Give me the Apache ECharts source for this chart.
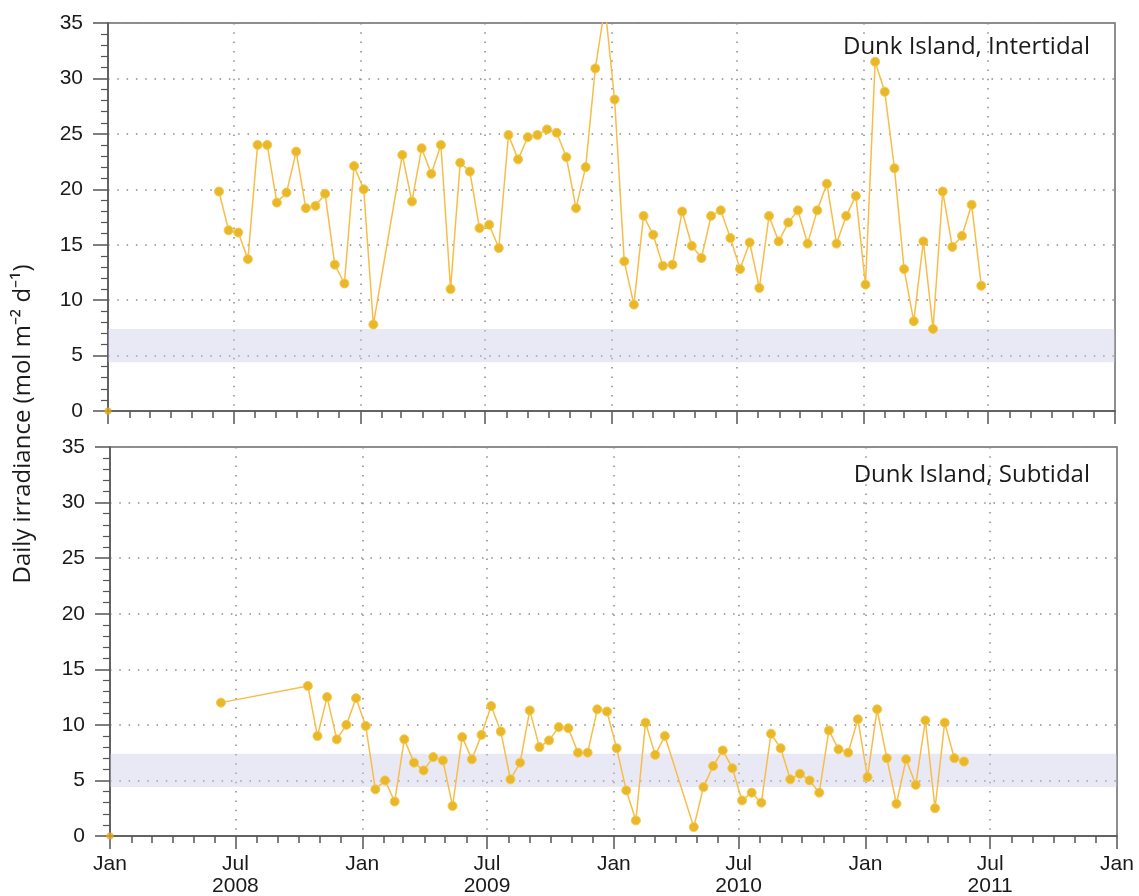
<!DOCTYPE html>
<html>
<head>
<meta charset="utf-8">
<script src="https://cdn.jsdelivr.net/npm/echarts@6/dist/echarts.min.js"></script>
<style>html,body{margin:0;padding:0;background:#fff;}#c{width:1139px;height:896px;}</style>
</head>
<body>
<div id="c"></div>
<script>
// ---- Data ----
const panelTitles = ['Dunk Island, Intertidal', 'Dunk Island, Subtidal'];
const yAxisTitle = 'Daily irradiance (mol m\u207B\u00B2 d\u207B\u00B9)';
const xRange = ['2008-01-01', '2012-01-01'];
const yTicks = [0, 35, 5];           // min, max, step
const bandRange = [4.4, 7.4];        // shaded band (mol m-2 d-1)
const originPoint = ['2008-01-01', 0];

const intertidalDates = [
  '2008-06-10','2008-06-24','2008-07-08','2008-07-22','2008-08-05','2008-08-19','2008-09-02','2008-09-16',
  '2008-09-30','2008-10-14','2008-10-28','2008-11-11','2008-11-25','2008-12-09','2008-12-23','2009-01-06',
  '2009-01-20','2009-03-03','2009-03-17','2009-03-31','2009-04-14','2009-04-28','2009-05-12','2009-05-26',
  '2009-06-09','2009-06-23','2009-07-07','2009-07-21','2009-08-04','2009-08-18','2009-09-01','2009-09-15',
  '2009-09-29','2009-10-13','2009-10-27','2009-11-10','2009-11-24','2009-12-08','2009-12-22','2010-01-05',
  '2010-01-19','2010-02-02','2010-02-16','2010-03-02','2010-03-16','2010-03-30','2010-04-13','2010-04-27',
  '2010-05-11','2010-05-25','2010-06-08','2010-06-22','2010-07-06','2010-07-20','2010-08-03','2010-08-17',
  '2010-08-31','2010-09-14','2010-09-28','2010-10-12','2010-10-26','2010-11-09','2010-11-23','2010-12-07',
  '2010-12-21','2011-01-04','2011-01-18','2011-02-01','2011-02-15','2011-03-01','2011-03-15','2011-03-29',
  '2011-04-12','2011-04-26','2011-05-10','2011-05-24','2011-06-07','2011-06-21'
];
const intertidalValues = [
  19.8,16.3,16.1,13.7,24.0,24.0,18.8,19.7,
  23.4,18.3,18.5,19.6,13.2,11.5,22.1,20.0,
  7.8,23.1,18.9,23.7,21.4,24.0,11.0,22.4,
  21.6,16.5,16.8,14.7,24.9,22.7,24.7,24.9,
  25.4,25.1,22.9,18.3,22.0,30.9,36.5,28.1,
  13.5,9.6,17.6,15.9,13.1,13.2,18.0,14.9,
  13.8,17.6,18.1,15.6,12.8,15.2,11.1,17.6,
  15.3,17.0,18.1,15.1,18.1,20.5,15.1,17.6,
  19.4,11.4,31.5,28.8,21.9,12.8,8.1,15.3,
  7.4,19.8,14.8,15.8,18.6,11.3
];

const subtidalDates = [
  '2008-06-10','2008-10-14','2008-10-28','2008-11-11','2008-11-25','2008-12-09','2008-12-23','2009-01-06',
  '2009-01-20','2009-02-03','2009-02-17','2009-03-03','2009-03-17','2009-03-31','2009-04-14','2009-04-28',
  '2009-05-12','2009-05-26','2009-06-09','2009-06-23','2009-07-07','2009-07-21','2009-08-04','2009-08-18',
  '2009-09-01','2009-09-15','2009-09-29','2009-10-13','2009-10-27','2009-11-10','2009-11-24','2009-12-08',
  '2009-12-22','2010-01-05','2010-01-19','2010-02-02','2010-02-16','2010-03-02','2010-03-16','2010-04-27',
  '2010-05-11','2010-05-25','2010-06-08','2010-06-22','2010-07-06','2010-07-20','2010-08-03','2010-08-17',
  '2010-08-31','2010-09-14','2010-09-28','2010-10-12','2010-10-26','2010-11-09','2010-11-23','2010-12-07',
  '2010-12-21','2011-01-04','2011-01-18','2011-02-01','2011-02-15','2011-03-01','2011-03-15','2011-03-29',
  '2011-04-12','2011-04-26','2011-05-10','2011-05-24'
];
const subtidalValues = [
  12.0,13.5,9.0,12.5,8.7,10.0,12.4,9.9,
  4.2,5.0,3.1,8.7,6.6,5.9,7.1,6.8,
  2.7,8.9,6.9,9.1,11.7,9.4,5.1,6.6,
  11.3,8.0,8.6,9.8,9.7,7.5,7.5,11.4,
  11.2,7.9,4.1,1.4,10.2,7.3,9.0,0.8,
  4.4,6.3,7.7,6.1,3.2,3.9,3.0,9.2,
  7.9,5.1,5.6,5.0,3.9,9.5,7.8,7.5,
  10.5,5.3,11.4,7.0,2.9,6.9,4.6,10.4,
  2.5,10.2,7.0,6.7
];

// ---- Styles ----
const AXIS = '#555';
const GRIDC = '#8a8a8a';
const LINE = '#f7bd48';
const DOT = '#e9b828';
const FONT_TICK = 'Liberation Sans';
const FONT_TEXT = 'Open Sans';
const DAY = 86400000;

const grids = [
  { left: 108, top: 23, width: 1007, height: 388 },
  { left: 110, top: 447, width: 1007, height: 389 }
];

function pairs(d, v) { return d.map((x, i) => [x, v[i]]); }

function mainX(gi, showLabels) {
  return {
    type: 'time', gridIndex: gi, position: 'bottom',
    min: xRange[0], max: xRange[1],
    splitNumber: 8, minInterval: 180 * DAY, maxInterval: 186 * DAY,
    axisLine: { show: true, onZero: false, lineStyle: { color: AXIS, width: 1.5 } },
    axisTick: { show: true, inside: false, length: 13, lineStyle: { color: AXIS, width: 1.5 } },
    splitLine: { show: true, lineStyle: { color: GRIDC, width: 1.5, type: [1.5, 7.8] } },
    minorTick: { show: false },
    axisLabel: {
      show: showLabels, color: '#1a1a1a', fontFamily: FONT_TICK, fontSize: 21, lineHeight: 22,
      margin: 17, showMinLabel: true, showMaxLabel: true, hideOverlap: false,
      formatter: function (val) {
        const d = new Date(val);
        return d.getMonth() === 0 ? 'Jan' : 'Jul\n' + d.getFullYear();
      }
    }
  };
}
function minorX(gi) {
  return {
    type: 'time', gridIndex: gi, position: 'bottom',
    min: xRange[0], max: xRange[1],
    splitNumber: 48, minInterval: 28 * DAY, maxInterval: 31 * DAY,
    axisLine: { show: false },
    axisTick: { show: true, inside: false, length: 7, lineStyle: { color: AXIS, width: 1.5 } },
    splitLine: { show: false },
    axisLabel: { show: false }
  };
}
function yAx(gi) {
  return {
    type: 'value', gridIndex: gi, min: yTicks[0], max: yTicks[1], interval: yTicks[2],
    axisLine: { show: true, onZero: false, lineStyle: { color: AXIS, width: 1.5 } },
    axisTick: { show: true, inside: false, length: 15, lineStyle: { color: AXIS, width: 1.5 } },
    minorTick: { show: true, splitNumber: 5, length: 7, lineStyle: { color: AXIS, width: 1.2 } },
    splitLine: { show: true, lineStyle: { color: GRIDC, width: 1.5, type: [1.5, 7.8] } },
    axisLabel: { color: '#1a1a1a', fontFamily: FONT_TICK, fontSize: 21, margin: 25 }
  };
}
function lineSeries(xi, yi, d, v) {
  return {
    type: 'line', xAxisIndex: xi, yAxisIndex: yi, data: pairs(d, v),
    clip: true, symbol: 'circle', symbolSize: 9, showAllSymbol: true,
    lineStyle: { color: LINE, width: 1.5 },
    itemStyle: { color: DOT, borderColor: '#f5c850', borderWidth: 1 },
    emphasis: { disabled: true }, z: 3,
    markArea: {
      silent: true,
      itemStyle: { color: 'rgba(196,196,232,0.38)' },
      data: [[{ yAxis: bandRange[0] }, { yAxis: bandRange[1] }]]
    }
  };
}
function originSeries(xi, yi) {
  return {
    type: 'scatter', xAxisIndex: xi, yAxisIndex: yi, data: [originPoint],
    clip: false, symbolSize: 7, itemStyle: { color: '#e9a818' }, z: 5, silent: true
  };
}

const chart = echarts.init(document.getElementById('c'), null, { renderer: 'canvas' });
chart.setOption({
  animation: false,
  backgroundColor: '#fff',
  grid: grids.map(g => Object.assign({ show: true, borderColor: '#6a6a6a', borderWidth: 1.5, backgroundColor: 'transparent', containLabel: false, outerBoundsMode: 'none' }, g)),
  xAxis: [mainX(0, false), mainX(1, true), minorX(0), minorX(1)],
  yAxis: [yAx(0), yAx(1)],
  title: [
    { text: panelTitles[0], right: 44, top: 30, textStyle: { fontFamily: FONT_TEXT, fontSize: 24, fontWeight: 'normal', color: '#1a1a1a' } },
    { text: panelTitles[1], right: 44, top: 458, textStyle: { fontFamily: FONT_TEXT, fontSize: 24, fontWeight: 'normal', color: '#1a1a1a' } }
  ],
  graphic: [{
    type: 'text', x: 23, y: 424, rotation: Math.PI / 2,
    style: { text: yAxisTitle, fontFamily: FONT_TEXT, fontSize: 24, fill: '#1a1a1a', align: 'center', verticalAlign: 'middle' }
  }],
  series: [
    lineSeries(0, 0, intertidalDates, intertidalValues),
    lineSeries(1, 1, subtidalDates, subtidalValues),
    originSeries(0, 0),
    originSeries(1, 1)
  ]
});
</script>
</body>
</html>
